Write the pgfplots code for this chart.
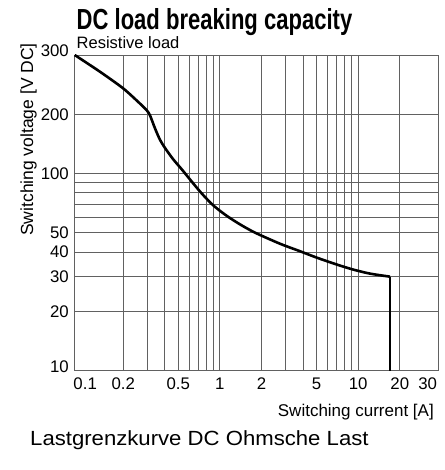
\documentclass[border=0pt]{standalone}
\usepackage{fontspec}
\setmainfont{Liberation Sans}
\newfontfamily\titlefont[FakeStretch=0.76]{Liberation Sans}
\newfontfamily\capfont[FakeStretch=1.08]{Liberation Sans}
\usepackage{pgfplots}
\pgfplotsset{compat=1.18}
\begin{document}
\begin{tikzpicture}
\useasboundingbox (0,0) rectangle (444pt,-470pt);
\begin{axis}[
  at={(74pt,-370.7pt)}, anchor=south west,
  scale only axis, width=364.3pt, height=315.7pt,
  xmode=log, xmin=0.088, xmax=38,
  ymin=10, ymax=300,
  y coord trafo/.code={\pgfmathparse{(#1<=200) ? ln(#1)/ln(10) : ln(200)/ln(10)+1.708*(ln(#1)-ln(200))/ln(10)}},
  xtick={0.2,0.3,0.4,0.5,0.6,0.7,0.8,0.9,1,2,3,4,5,6,7,8,9,10,20},
  xticklabels={0.2,,,0.5,,,,,1,2,,,5,,,,,10,20},
  extra x ticks={0.1,30},
  extra x tick labels={0.1,30},
  extra x tick style={grid=none, xticklabel style={xshift=3.5pt}},
  ytick={20,30,40,50,60,70,80,90,100,200},
  yticklabels={20,30,40,50,,,,,100,200},
  extra y ticks={10,300},
  extra y tick labels={10,\raisebox{-11.5pt}{300}},
  extra y tick style={grid=none, yticklabel style={yshift=3.8pt}},
  xmajorgrids, ymajorgrids, xminorgrids=false, yminorgrids=false,
  major tick length=0pt, minor tick length=0pt,
  grid style={black!62, line width=0.9pt},
  axis line style={black!62, line width=0.9pt},
  tick label style={font=\fontsize{16.8}{18}\selectfont, inner sep=0pt},
  xticklabel style={anchor=north, yshift=-7pt},
  yticklabel style={anchor=east, xshift=-5pt},
]
\addplot[black, line width=2.6pt, line join=round, smooth, tension=0.45] coordinates {
(0.089,300) (0.1357,267.5) (0.2,238.6) (0.264,215.2) (0.2953,205.6)
(0.3119,197.7) (0.339,169.8) (0.3685,148.5) (0.4004,135.0) (0.4597,118.1)
(0.5285,105.3) (0.6246,91.2) (0.7377,79.4) (0.895,69.0) (1.119,61.1)
(1.396,55.3) (1.792,50.2) (2.717,44.1) (3.79,40.4) (5.005,37.5)
(6.98,34.6) (9.2,32.6) (12.15,31.1) (17,30)
};
\addplot[black, line width=2.6pt, line join=round] coordinates {
(17,30) (17,10)
};
\end{axis}
\node[anchor=base west, inner sep=0pt, font=\titlefont\bfseries\fontsize{29}{30}\selectfont] at (76.5pt,-29.3pt) {DC load breaking capacity};
\node[anchor=base west, inner sep=0pt, font=\fontsize{16.5}{18}\selectfont] at (76.5pt,-48.3pt) {Resistive load};
\node[rotate=90, anchor=base west, inner sep=0pt, font=\fontsize{17.5}{19}\selectfont] at (33pt,-236pt) {Switching voltage [V DC]};
\node[anchor=base east, inner sep=0pt, font=\fontsize{17}{19}\selectfont] at (434pt,-416pt) {Switching current [A]};
\node[anchor=base west, inner sep=0pt, font=\capfont\fontsize{20.5}{22}\selectfont] at (30pt,-445.5pt) {Lastgrenzkurve DC Ohmsche Last};
\end{tikzpicture}
\end{document}
